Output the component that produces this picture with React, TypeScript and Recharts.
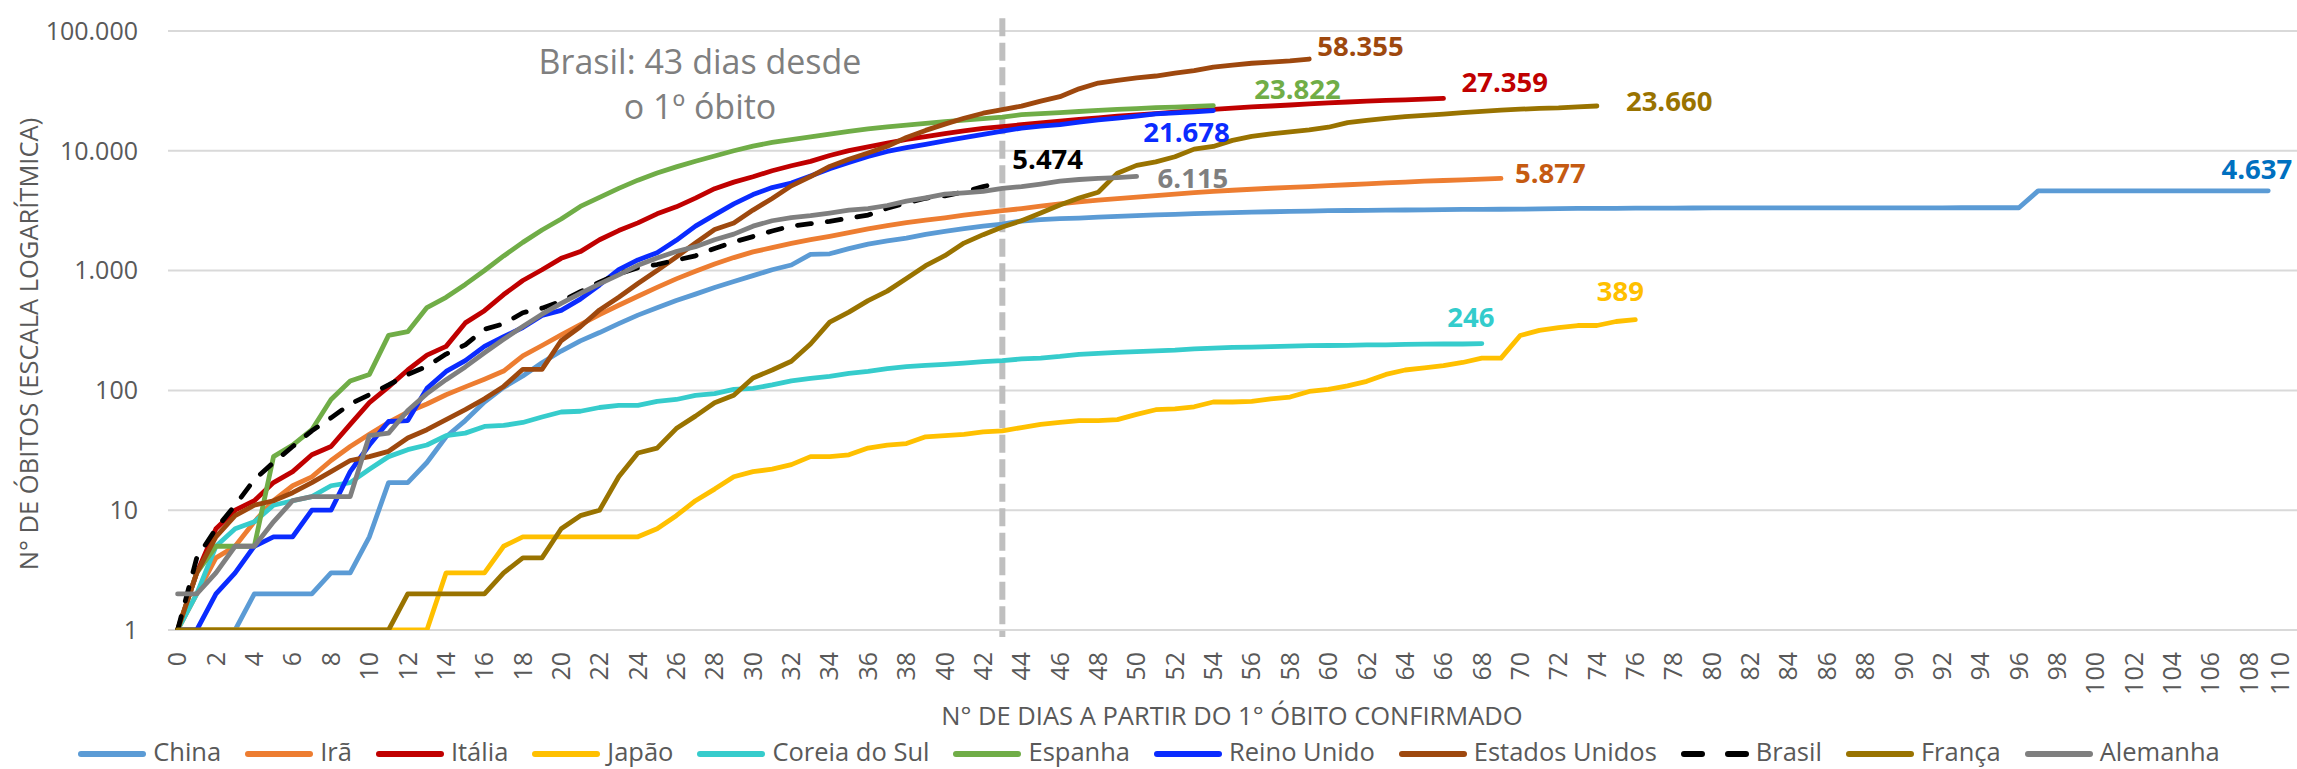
import React from 'react';
import { LineChart, Line, XAxis, YAxis, CartesianGrid, ReferenceLine } from 'recharts';

// ---------- data ----------
const X_TICKS = [0, 2, 4, 6, 8, 10, 12, 14, 16, 18, 20, 22, 24, 26, 28, 30, 32, 34, 36, 38, 40, 42, 44, 46, 48, 50, 52, 54, 56, 58, 60, 62, 64, 66, 68, 70, 72, 74, 76, 78, 80, 82, 84, 86, 88, 90, 92, 94, 96, 98, 100, 102, 104, 106, 108, 110];
const Y_TICKS = [1, 10, 100, 1000, 10000, 100000];
const BRASIL_DAY = 43;

const CHINA = [1, 1, 1, 1, 2, 2, 2, 2, 3, 3, 6, 17, 17, 25, 41, 56, 80, 106, 132, 170, 213, 259, 304, 361, 425, 490, 563, 636, 722, 811, 908, 1016, 1113, 1368, 1381, 1524, 1666, 1772, 1870, 2006, 2121, 2239, 2348, 2445, 2595, 2666, 2718, 2747, 2791, 2838, 2873, 2915, 2946, 2984, 3015, 3045, 3073, 3100, 3123, 3140, 3162, 3173, 3180, 3194, 3204, 3218, 3231, 3242, 3250, 3253, 3259, 3274, 3292, 3304, 3305, 3312, 3318, 3322, 3326, 3330, 3333, 3335, 3337, 3339, 3340, 3340, 3341, 3342, 3342, 3344, 3344, 3345, 3345, 3346, 3346, 3346, 3346, 4632, 4632, 4632, 4632, 4632, 4632, 4633, 4633, 4633, 4633, 4633, 4636, 4637];
const IRA = [1, 2, 4, 5, 8, 12, 16, 19, 26, 34, 43, 54, 66, 77, 92, 107, 124, 145, 194, 237, 291, 354, 429, 514, 611, 724, 853, 988, 1135, 1284, 1433, 1556, 1685, 1812, 1934, 2077, 2234, 2378, 2517, 2640, 2757, 2898, 3036, 3160, 3294, 3452, 3603, 3739, 3872, 3993, 4110, 4232, 4357, 4474, 4585, 4683, 4777, 4869, 4958, 5031, 5118, 5209, 5297, 5391, 5481, 5574, 5650, 5710, 5806, 5877];
const ITALIA = [1, 3, 7, 10, 12, 17, 21, 29, 34, 52, 79, 107, 148, 197, 233, 366, 463, 631, 827, 1016, 1266, 1441, 1809, 2158, 2503, 2978, 3405, 4032, 4825, 5476, 6077, 6820, 7503, 8165, 9134, 10023, 10779, 11591, 12428, 13155, 13915, 14681, 15362, 15887, 16523, 17127, 17669, 18279, 18849, 19468, 19899, 20465, 21067, 21645, 22170, 22745, 23227, 23660, 24114, 24648, 25085, 25549, 25969, 26384, 26644, 26977, 27359];
const JAPAO = [1, 1, 1, 1, 1, 1, 1, 1, 1, 1, 1, 1, 1, 1, 3, 3, 3, 5, 6, 6, 6, 6, 6, 6, 6, 7, 9, 12, 15, 19, 21, 22, 24, 28, 28, 29, 33, 35, 36, 41, 42, 43, 45, 46, 49, 52, 54, 56, 56, 57, 63, 69, 70, 73, 80, 80, 81, 85, 88, 98, 102, 109, 119, 136, 148, 154, 161, 171, 186, 186, 287, 317, 334, 348, 348, 376, 389];
const COREIA = [1, 2, 5, 7, 8, 11, 12, 13, 16, 17, 22, 28, 32, 35, 42, 44, 50, 51, 54, 60, 66, 67, 72, 75, 75, 81, 84, 91, 94, 102, 104, 111, 120, 126, 131, 139, 144, 152, 158, 162, 165, 169, 174, 177, 183, 186, 192, 200, 204, 208, 211, 214, 217, 222, 225, 229, 230, 232, 234, 236, 237, 238, 240, 240, 242, 243, 244, 244, 246];
const ESPANHA = [1, 3, 5, 5, 5, 28, 35, 47, 84, 120, 136, 288, 309, 491, 598, 767, 1002, 1326, 1720, 2182, 2696, 3434, 4089, 4858, 5690, 6528, 7340, 8189, 9053, 10003, 10935, 11744, 12418, 13055, 13798, 14555, 15238, 15843, 16353, 16972, 17489, 18056, 18579, 19130, 20043, 20453, 20852, 21282, 21717, 22157, 22524, 22902, 23190, 23521, 23822];
const REINO_UNIDO = [1, 1, 2, 3, 5, 6, 6, 10, 10, 21, 35, 55, 56, 104, 144, 177, 233, 281, 335, 422, 465, 578, 759, 1019, 1228, 1408, 1789, 2352, 2921, 3605, 4313, 4934, 5373, 6159, 7097, 7978, 8958, 9875, 10612, 11329, 12107, 12868, 13729, 14576, 15464, 16060, 16509, 17337, 18100, 18738, 19506, 20319, 20732, 21092, 21678];
const ESTADOS_UNIDOS = [1, 3, 6, 9, 11, 12, 14, 17, 21, 26, 28, 31, 40, 47, 57, 69, 85, 108, 150, 150, 260, 340, 470, 600, 780, 1000, 1300, 1700, 2200, 2500, 3200, 4000, 5100, 6100, 7400, 8500, 9600, 10900, 12900, 14800, 16700, 18700, 20600, 22100, 23600, 26000, 28300, 32900, 36800, 38700, 40700, 42100, 44400, 46600, 50000, 51900, 53800, 54900, 56300, 58355];
const BRASIL = [1, 4, 7, 11, 18, 25, 34, 46, 59, 77, 92, 111, 136, 159, 201, 240, 324, 359, 445, 486, 553, 667, 800, 941, 1056, 1124, 1223, 1328, 1532, 1736, 1924, 2141, 2354, 2462, 2575, 2741, 2906, 3313, 3670, 4016, 4205, 4543, 5017, 5474];
const FRANCA = [1, 1, 1, 1, 1, 1, 1, 1, 1, 1, 1, 1, 2, 2, 2, 2, 2, 3, 4, 4, 7, 9, 10, 19, 30, 33, 48, 61, 79, 91, 127, 148, 175, 244, 372, 450, 562, 674, 860, 1100, 1331, 1696, 1995, 2314, 2606, 3024, 3523, 4032, 4503, 6507, 7560, 8078, 8911, 10328, 10869, 12210, 13197, 13832, 14393, 14967, 15729, 17167, 17920, 18681, 19323, 19718, 20265, 20796, 21340, 21856, 22245, 22614, 22856, 23293, 23660];
const ALEMANHA = [2, 2, 3, 5, 5, 8, 12, 13, 13, 13, 42, 44, 68, 94, 123, 157, 206, 267, 342, 433, 533, 645, 775, 920, 1107, 1275, 1444, 1584, 1810, 2016, 2349, 2607, 2767, 2873, 3022, 3194, 3294, 3495, 3804, 4052, 4352, 4459, 4586, 4862, 5033, 5279, 5575, 5760, 5877, 5976, 6115];

// ---------- styling / config ----------
const FONT = "'Open Sans', 'Noto Sans', sans-serif";
const AXIS_GRAY = '#595959';

type S = {
  key: string; name: string; data: number[]; color: string; labelColor: string;
  dx: number; dy: number; anchor: 'start' | 'middle' | 'end'; dashed?: boolean;
};

const SERIES: S[] = [
  { key: 'china', name: 'China', data: CHINA, color: '#5B9BD5', labelColor: '#0070C0', dx: 24, dy: -21, anchor: 'end' },
  { key: 'ira', name: 'Irã', data: IRA, color: '#ED7D31', labelColor: '#C55A11', dx: 14, dy: -5, anchor: 'start' },
  { key: 'italia', name: 'Itália', data: ITALIA, color: '#C00000', labelColor: '#C00000', dx: 18, dy: -16, anchor: 'start' },
  { key: 'japao', name: 'Japão', data: JAPAO, color: '#FFC000', labelColor: '#FFC000', dx: -15, dy: -28, anchor: 'middle' },
  { key: 'coreia', name: 'Coreia do Sul', data: COREIA, color: '#36CCCC', labelColor: '#33CCCC', dx: -11, dy: -26, anchor: 'middle' },
  { key: 'espanha', name: 'Espanha', data: ESPANHA, color: '#70AD47', labelColor: '#70AD47', dx: 41, dy: -16, anchor: 'start' },
  { key: 'reino', name: 'Reino Unido', data: REINO_UNIDO, color: '#0A2BFF', labelColor: '#0A2BFF', dx: -70, dy: 22, anchor: 'start' },
  { key: 'eua', name: 'Estados Unidos', data: ESTADOS_UNIDOS, color: '#9E480E', labelColor: '#9E480E', dx: 8, dy: -13, anchor: 'start' },
  { key: 'brasil', name: 'Brasil', data: BRASIL, color: '#000000', labelColor: '#000000', dx: 10, dy: -23, anchor: 'start', dashed: true },
  { key: 'franca', name: 'França', data: FRANCA, color: '#997300', labelColor: '#997300', dx: 29, dy: -5, anchor: 'start' },
  { key: 'alemanha', name: 'Alemanha', data: ALEMANHA, color: '#7F7F7F', labelColor: '#7F7F7F', dx: 21, dy: 2, anchor: 'start' },
];

const fmt = (v: number) => String(Math.round(v)).replace(/\B(?=(\d{3})+(?!\d))/g, '.');

const maxLen = Math.max(...SERIES.map((s) => s.data.length));
const ROWS = Array.from({ length: Math.max(maxLen, 111) }, (_, day) => {
  const row: Record<string, number | undefined> = { day };
  SERIES.forEach((s) => {
    row[s.key] = day < s.data.length ? s.data[day] : undefined;
  });
  return row;
});

const W = 2297;
const H = 769;

const XTick = (props: any) => {
  const { x, y, payload } = props;
  // keep the right-most rotated label inside the picture
  const tx = Math.min(x, W - 17);
  return (
    <text
      transform={`translate(${tx},${y + 22}) rotate(-90)`}
      textAnchor="end"
      dy="0.35em"
      fontSize={25}
      fill={AXIS_GRAY}
      fontFamily={FONT}
    >
      {payload.value}
    </text>
  );
};

const YTick = (props: any) => {
  const { x, y, payload } = props;
  return (
    <text x={x} y={y} dy="0.35em" textAnchor="end" fontSize={25} fill={AXIS_GRAY} fontFamily={FONT}>
      {fmt(payload.value)}
    </text>
  );
};

const makeEndLabel = (s: S) => (props: any) => {
  const { x, y, index } = props;
  if (index !== s.data.length - 1 || x == null || y == null) return null;
  return (
    <text
      x={x + s.dx}
      y={y + s.dy}
      dy="0.35em"
      textAnchor={s.anchor}
      fill={s.labelColor}
      fontSize={27.5}
      fontWeight={700}
      fontFamily={FONT}
    >
      {fmt(s.data[index])}
    </text>
  );
};

const LegendRow = () => (
  <div
    style={{
      position: 'absolute',
      left: 0,
      top: 735,
      width: W,
      height: 33,
      display: 'flex',
      justifyContent: 'center',
      alignItems: 'center',
      fontFamily: FONT,
      fontSize: 25.5,
      lineHeight: '33px',
      color: AXIS_GRAY,
      whiteSpace: 'nowrap',
    }}
  >
    {SERIES.map((s, i) => (
      <div key={s.key} style={{ display: 'flex', alignItems: 'center', marginLeft: i === 0 ? 0 : 23 }}>
        <svg width={70} height={12} style={{ display: 'block', marginTop: 4 }}>
          <line
            x1={4}
            y1={6}
            x2={66}
            y2={6}
            stroke={s.color}
            strokeWidth={6}
            strokeLinecap="round"
            strokeDasharray={s.dashed ? '18 26' : undefined}
          />
        </svg>
        <span style={{ marginLeft: 6 }}>{s.name}</span>
      </div>
    ))}
  </div>
);

const Overlay = () => (
  <svg width={W} height={H} style={{ position: 'absolute', left: 0, top: 0, pointerEvents: 'none' }}>
    <text x={700} y={74} textAnchor="middle" fontSize={34} fill="#7F7F7F" fontFamily={FONT}>
      Brasil: 43 dias desde
    </text>
    <text x={700} y={119} textAnchor="middle" fontSize={34} fill="#7F7F7F" fontFamily={FONT}>
      o 1º óbito
    </text>
    <text
      x={1232}
      y={716}
      dy="0.35em"
      textAnchor="middle"
      fontSize={25.5}
      fill={AXIS_GRAY}
      fontFamily={FONT}
    >
      N° DE DIAS A PARTIR DO 1° ÓBITO CONFIRMADO
    </text>
    <text
      transform="translate(29,344) rotate(-90)"
      dy="0.35em"
      textAnchor="middle"
      fontSize={25.5}
      fill={AXIS_GRAY}
      fontFamily={FONT}
    >
      N° DE ÓBITOS (ESCALA LOGARÍTMICA)
    </text>
  </svg>
);

export default function App() {
  return (
    <div style={{ position: 'relative', width: W, height: H, overflow: 'hidden', background: '#fff' }}>
      <style>{'html,body{margin:0;padding:0;overflow:hidden;background:#fff}'}</style>
      <LineChart width={W} height={H} data={ROWS} margin={{ top: 31, right: 0, bottom: 0, left: 0 }}>
        <CartesianGrid vertical={false} stroke="#D9D9D9" strokeWidth={2} />
        <XAxis
          dataKey="day"
          type="number"
          domain={[-0.5, 110.5]}
          ticks={X_TICKS}
          interval={0}
          height={139}
          axisLine={false}
          tickLine={false}
          tickSize={0}
          tickMargin={0}
          tick={<XTick />}
          allowDataOverflow
        />
        <YAxis
          scale="log"
          type="number"
          domain={[1, 100000]}
          ticks={Y_TICKS}
          interval={0}
          width={168}
          axisLine={false}
          tickLine={false}
          tickSize={0}
          tickMargin={30}
          tick={<YTick />}
          allowDataOverflow
        />
        <ReferenceLine
          segment={[
            { x: BRASIL_DAY, y: 128000 },
            { x: BRASIL_DAY, y: 0.874 },
          ]}
          ifOverflow="visible"
          stroke="#BFBFBF"
          strokeWidth={6}
          strokeDasharray="18 6.5"
        />
        {SERIES.map((s) => (
          <Line
            key={s.key}
            dataKey={s.key}
            name={s.name}
            type="linear"
            stroke={s.color}
            strokeWidth={4.8}
            strokeLinecap="round"
            strokeLinejoin="round"
            strokeDasharray={s.dashed ? '14 16' : undefined}
            dot={false}
            activeDot={false}
            isAnimationActive={false}
            connectNulls={false}
            label={makeEndLabel(s)}
          />
        ))}
      </LineChart>
      <Overlay />
      <LegendRow />
    </div>
  );
}
